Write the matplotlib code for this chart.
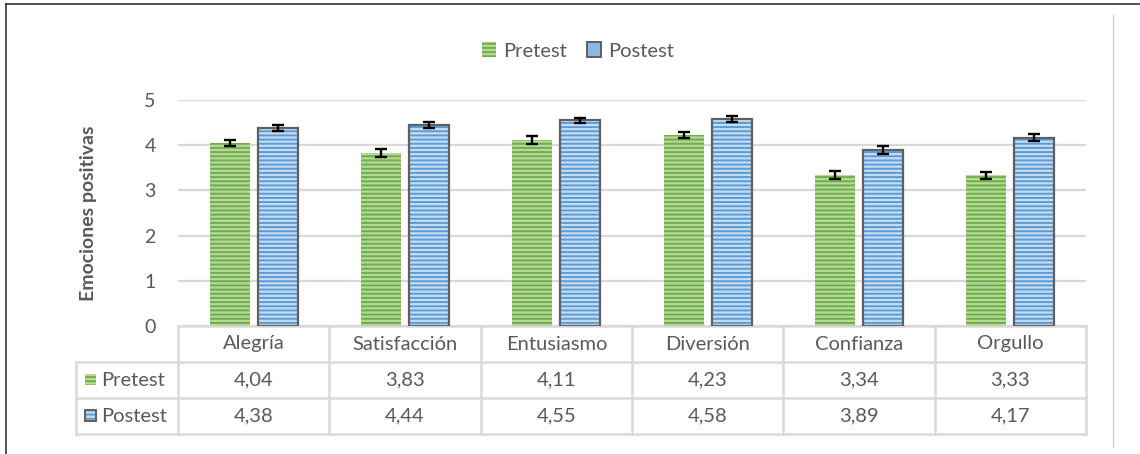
import numpy as np
import matplotlib
matplotlib.use("Agg")
import matplotlib.pyplot as plt
import matplotlib.patches as mpatches
from matplotlib.lines import Line2D

plt.rcParams["font.family"] = ["Lato", "DejaVu Sans"]
plt.rcParams["hatch.linewidth"] = 1.4

categories = ["Alegría", "Satisfacción", "Entusiasmo", "Diversión", "Confianza", "Orgullo"]
series_names = ["Pretest", "Postest"]
pretest = [4.04, 3.83, 4.11, 4.23, 3.34, 3.33]
postest = [4.38, 4.44, 4.55, 4.58, 3.89, 4.17]
pretest_err = [0.066, 0.081, 0.085, 0.063, 0.096, 0.088]
postest_err = [0.074, 0.063, 0.059, 0.059, 0.085, 0.081]
yticks = [0, 1, 2, 3, 4, 5]

GREEN_L, GREEN_D = "#b5d99c", "#70ad47"
BLUE_L, BLUE_D = "#c6dcf1", "#5b9bd5"
EDGE = "#5f5f5f"
GRID = "#d9d9d9"
TXT = "#595959"
FS = 14.5

W, H = 1140, 454
fig = plt.figure(figsize=(W / 100, H / 100), dpi=100)
fig.patch.set_facecolor("white")

def fx(px):
    return px / W

def fy(py):
    return 1 - py / H

ax = fig.add_axes([fx(178), fy(326), fx(1086) - fx(178), fy(100) - fy(326)])
x = np.arange(len(categories))
bw = 0.264
off = 0.158

ax.bar(x - off, pretest, bw, color=GREEN_L, edgecolor=GREEN_D, linewidth=0,
       hatch="----", zorder=3)
ax.bar(x + off, postest, bw, color=BLUE_L, edgecolor=BLUE_D, linewidth=0,
       hatch="----", zorder=3)
ax.bar(x + off, postest, bw, facecolor="none", edgecolor=EDGE, linewidth=1.6, zorder=4)
ax.errorbar(x - off, pretest, yerr=pretest_err, fmt="none", ecolor="black",
            elinewidth=1.7, capsize=4.3, capthick=1.7, zorder=5)
ax.errorbar(x + off, postest, yerr=postest_err, fmt="none", ecolor="black",
            elinewidth=1.7, capsize=4.3, capthick=1.7, zorder=5)

ax.set_xlim(-0.5, len(categories) - 0.5)
ax.set_ylim(0, 5)
ax.set_yticks(yticks)
ax.set_yticklabels([str(t) for t in yticks], fontsize=14, color=TXT)
ax.set_xticks([])
ax.tick_params(axis="y", length=0, pad=16)
ax.grid(axis="y", color=GRID, linewidth=1.6, zorder=0)
for s in ax.spines.values():
    s.set_visible(False)
ax.set_facecolor("none")
ax.set_ylabel("Emociones positivas", fontsize=14, fontweight="bold", color=TXT, labelpad=34)

# data table below the plot (axes coordinates)
def ay(py):
    return (326 - py) / 226.0

def axx(px):
    return (px - 178) / 908.0

ncol = len(categories)
tl = dict(color=GRID, linewidth=1.8, transform=ax.transAxes, clip_on=False, zorder=2)
rows_y = [326, 362, 398, 434]
ax.plot([0, 1], [ay(326), ay(326)], **tl)
for py in rows_y[1:]:
    ax.plot([axx(76), 1], [ay(py), ay(py)], **tl)
for i in range(ncol + 1):
    ax.plot([i / ncol, i / ncol], [ay(326), ay(434)], **tl)
ax.plot([axx(76), axx(76)], [ay(362), ay(434)], **tl)

for i, c in enumerate(categories):
    ax.text((i + 0.5) / ncol, ay(344), c, transform=ax.transAxes, ha="center",
            va="center", fontsize=FS, color=TXT)
    ax.text((i + 0.5) / ncol, ay(380), f"{pretest[i]:.2f}".replace(".", ","),
            transform=ax.transAxes, ha="center", va="center", fontsize=FS, color=TXT)
    ax.text((i + 0.5) / ncol, ay(416), f"{postest[i]:.2f}".replace(".", ","),
            transform=ax.transAxes, ha="center", va="center", fontsize=FS, color=TXT)

key_w = axx(96) - axx(85)
key_h = ay(374) - ay(385)
ax.add_patch(mpatches.Rectangle((axx(85), ay(385)), key_w, key_h, transform=ax.transAxes,
                                facecolor=GREEN_L, edgecolor=GREEN_D, linewidth=0,
                                hatch="----", clip_on=False))
ax.add_patch(mpatches.Rectangle((axx(85), ay(421)), key_w, key_h, transform=ax.transAxes,
                                facecolor=BLUE_L, edgecolor=BLUE_D, linewidth=0,
                                hatch="----", clip_on=False))
ax.add_patch(mpatches.Rectangle((axx(85), ay(421)), key_w, key_h, transform=ax.transAxes,
                                facecolor="none", edgecolor=EDGE, linewidth=1.4,
                                clip_on=False))
ax.text(axx(101), ay(380), series_names[0], transform=ax.transAxes, ha="left",
        va="center", fontsize=FS, color=TXT)
ax.text(axx(101), ay(416), series_names[1], transform=ax.transAxes, ha="left",
        va="center", fontsize=FS, color=TXT)

# legend on top
handles = [
    mpatches.Patch(facecolor=GREEN_L, edgecolor=GREEN_D, linewidth=0, hatch="----",
                   label=series_names[0]),
    mpatches.Patch(facecolor="#8bb8e2", edgecolor=EDGE, linewidth=1.4, label=series_names[1]),
]
fig.legend(handles=handles, loc="center", bbox_to_anchor=(fx(578), fy(51)), ncol=2,
           frameon=False, fontsize=FS, labelcolor=TXT, handlelength=0.7,
           handleheight=0.7, handletextpad=0.35, columnspacing=1.0)

# outer frame
fig.add_artist(Line2D([fx(6), 1], [fy(4), fy(4)], color="#333333", linewidth=1.2))
fig.add_artist(Line2D([fx(6), fx(6)], [fy(4), 0], color="#333333", linewidth=1.2))
fig.add_artist(Line2D([fx(1113), fx(1113)], [fy(15), fy(447)], color="#cccccc", linewidth=1.0))

fig.savefig("out.png", dpi=100, facecolor="white")
